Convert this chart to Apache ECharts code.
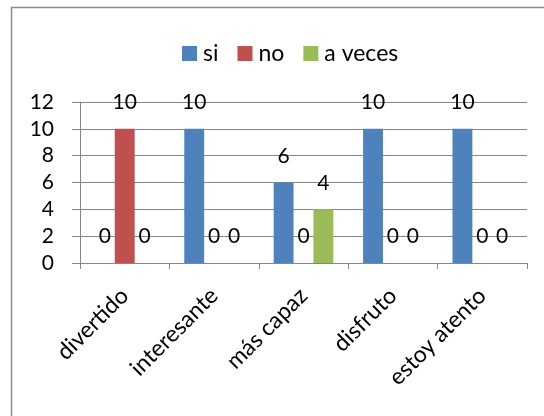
<!DOCTYPE html>
<html>
<head>
<meta charset="utf-8">
<style>
  html, body { margin: 0; padding: 0; background: #ffffff; }
  #chart { width: 544px; height: 416px; }
</style>
<script src="https://cdn.jsdelivr.net/npm/echarts@6/dist/echarts.min.js"></script>
</head>
<body>
<div id="chart"></div>
<script>
// Survey answers per statement
var categories = ['divertido', 'interesante', 'más capaz', 'disfruto', 'estoy atento'];
var siValues = [0, 10, 6, 10, 10];
var noValues = [10, 0, 0, 0, 0];
var aVecesValues = [0, 0, 4, 0, 0];
var yTicks = { min: 0, max: 12, interval: 2 };

var FONT = 'Lato, "Open Sans", sans-serif';
var chart = echarts.init(document.getElementById('chart'), null, { renderer: 'canvas' });

function barSeries(name, data, color) {
  return {
    name: name,
    type: 'bar',
    data: data,
    barGap: '0%',
    barCategoryGap: '33.3%',
    itemStyle: { color: color },
    label: {
      show: true,
      position: 'top',
      distance: 16,
      color: '#000',
      fontFamily: FONT,
      fontSize: 21
    }
  };
}

chart.setOption({
  animation: false,
  backgroundColor: '#ffffff',
  graphic: [{
    type: 'rect',
    shape: { x: 11.5, y: 7.5, width: 600, height: 500 },
    style: { fill: 'none', stroke: '#8c8c8c', lineWidth: 1.5 },
    z: -1
  }],
  legend: {
    left: 177,
    top: 37,
    itemWidth: 15,
    itemHeight: 15,
    itemGap: 19,
    icon: 'rect',
    textStyle: { color: '#000', fontFamily: FONT, fontSize: 23, padding: [0, 0, 0, 1] },
    data: ['si', 'no', 'a veces']
  },
  grid: { left: 80, right: 17, top: 102, bottom: 153, containLabel: false },
  xAxis: {
    type: 'category',
    data: categories,
    axisLine: { lineStyle: { color: '#868686', width: 1 } },
    axisTick: { show: true, length: 6, lineStyle: { color: '#868686' } },
    axisLabel: {
      rotate: 45,
      margin: 29,
      color: '#000',
      fontFamily: FONT,
      fontSize: 23,
      interval: 0
    }
  },
  yAxis: {
    type: 'value',
    min: yTicks.min,
    max: yTicks.max,
    interval: yTicks.interval,
    axisLine: { show: true, lineStyle: { color: '#868686', width: 1 } },
    axisTick: { show: true, length: 8, lineStyle: { color: '#868686' } },
    splitLine: { lineStyle: { color: '#868686', width: 1 } },
    axisLabel: { margin: 26, color: '#000', fontFamily: FONT, fontSize: 21 }
  },
  series: [
    barSeries('si', siValues, '#4F81BD'),
    barSeries('no', noValues, '#C0504D'),
    barSeries('a veces', aVecesValues, '#9BBB59')
  ]
});
</script>
</body>
</html>
